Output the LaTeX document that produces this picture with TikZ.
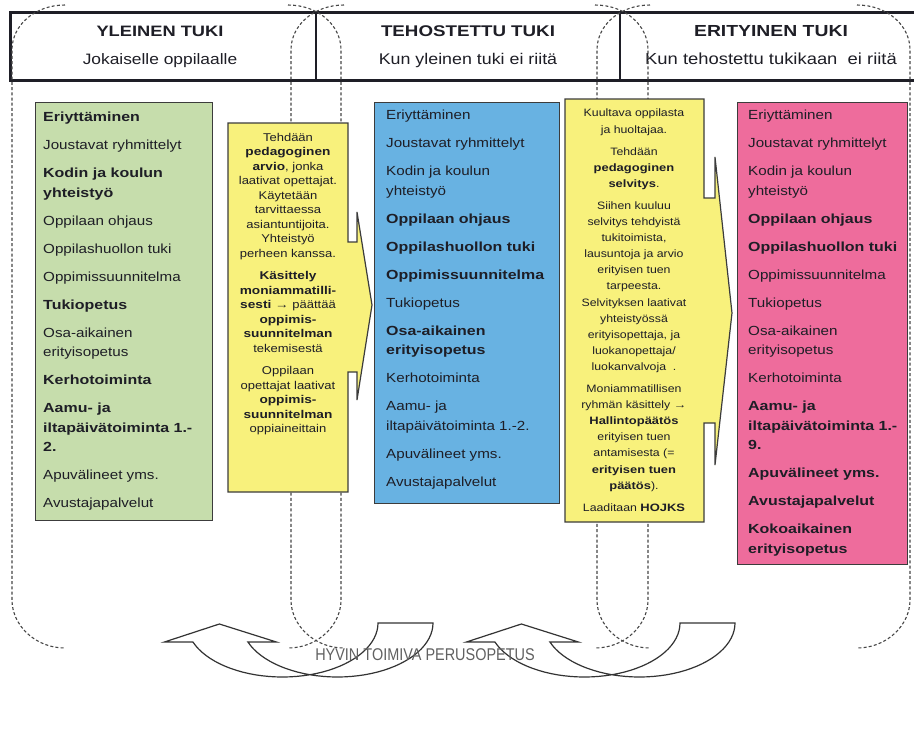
\documentclass[tikz,border=0pt]{standalone}
\usepackage{fontspec}
\setmainfont{Liberation Sans}
\newfontfamily\wfont[FakeStretch=1.15, BoldFeatures={FakeStretch=1.21}]{Liberation Sans}
\newfontfamily\nfont[FakeStretch=0.85]{Liberation Sans}
\definecolor{gfill}{RGB}{198,221,172}
\definecolor{bfill}{RGB}{104,178,226}
\definecolor{pfill}{RGB}{238,108,156}
\definecolor{yfill}{RGB}{248,241,124}
\definecolor{ink}{RGB}{30,30,38}
\definecolor{dashc}{RGB}{70,70,70}
\definecolor{edge}{RGB}{60,60,60}
\tikzset{
  dashline/.style={draw=dashc, line width=1.1pt, dash pattern=on 3pt off 2.2pt},
  colbox/.style={draw=edge, line width=1.3pt, rectangle, inner sep=0pt, anchor=north west},
  itemtext/.style={anchor=north west, inner sep=0pt, align=left, text=ink,
    font=\wfont\fontsize{13.2}{19.5}\selectfont},
  yeltext/.style={anchor=north, inner sep=0pt, align=center, text=ink},
  yelshape/.style={draw=edge, line width=1.2pt, fill=yfill},
  headtext/.style={anchor=north, inner sep=0pt, align=center, text=ink},
  curvearrow/.style={draw=black!80, line width=1.2pt, fill=white},
}
\begin{document}
\begin{tikzpicture}[x=1pt,y=-1pt]
\useasboundingbox (0,0) rectangle (914,745);
\fill[white] (0,0) rectangle (914,745);

% header frame
\draw[line width=3pt, draw=ink] (930,12) -- (10,12) -- (10,80) -- (930,80);
\draw[line width=1.2pt, draw=ink] (316,12) -- (316,80);
\draw[line width=1.2pt, draw=ink] (620,12) -- (620,80);
\node[headtext, font=\wfont\fontsize{15.1}{28.5}\selectfont] (h1) at (160,25.6) {\textbf{YLEINEN TUKI}\\Jokaiselle oppilaalle};
\node[headtext, font=\wfont\fontsize{15.5}{28.5}\selectfont] (h2) at (468,25.4) {\textbf{TEHOSTETTU TUKI}\\Kun yleinen tuki ei riitä};
\node[headtext, font=\wfont\fontsize{16}{28.5}\selectfont] (h3) at (771,25.1) {\textbf{ERITYINEN TUKI}\\Kun tehostettu tukikaan\ \ ei riitä};

% dashed column outlines
\foreach \xl/\xr in {12/341, 291/648, 597/910}{
  \draw[dashline] (\xl+53,5) .. controls (\xl+23,5) and (\xl,25) .. (\xl,50)
     -- (\xl,600) .. controls (\xl,625) and (\xl+23,648) .. (\xl+53,648);
  \draw[dashline] (\xr-53,5) .. controls (\xr-23,5) and (\xr,25) .. (\xr,50)
     -- (\xr,600) .. controls (\xr,625) and (\xr-23,648) .. (\xr-53,648);
}

% coloured boxes
\node[colbox, fill=gfill, minimum width=177pt, minimum height=418pt] (green) at (35,102) {};
\node[colbox, fill=bfill, minimum width=185pt, minimum height=401pt] (blue) at (374,102) {};
\node[colbox, fill=pfill, minimum width=170pt, minimum height=462pt] (pink) at (737,102) {};

\node[itemtext] (greentxt) at (43,112) {%
\textbf{Eriyttäminen}\\[8.5pt]
Joustavat ryhmittelyt\\[8.5pt]
\textbf{Kodin ja koulun}\\\textbf{yhteistyö}\\[8.5pt]
Oppilaan ohjaus\\[8.5pt]
Oppilashuollon tuki\\[8.5pt]
Oppimissuunnitelma\\[8.5pt]
\textbf{Tukiopetus}\\[8.5pt]
Osa-aikainen\\erityisopetus\\[8.5pt]
\textbf{Kerhotoiminta}\\[8.5pt]
\textbf{Aamu- ja}\\\textbf{iltapäivätoiminta 1.-}\\\textbf{2.}\\[8.5pt]
Apuvälineet yms.\\[8.5pt]
Avustajapalvelut};

\node[itemtext] (bluetxt) at (386,110) {%
Eriyttäminen\\[8.5pt]
Joustavat ryhmittelyt\\[8.5pt]
Kodin ja koulun\\yhteistyö\\[8.5pt]
\textbf{Oppilaan ohjaus}\\[8.5pt]
\textbf{Oppilashuollon tuki}\\[8.5pt]
\textbf{Oppimissuunnitelma}\\[8.5pt]
Tukiopetus\\[8.5pt]
\textbf{Osa-aikainen}\\\textbf{erityisopetus}\\[8.5pt]
Kerhotoiminta\\[8.5pt]
Aamu- ja\\iltapäivätoiminta 1.-2.\\[8.5pt]
Apuvälineet yms.\\[8.5pt]
Avustajapalvelut};

\node[itemtext] (pinktxt) at (748,110) {%
Eriyttäminen\\[8.5pt]
Joustavat ryhmittelyt\\[8.5pt]
Kodin ja koulun\\yhteistyö\\[8.5pt]
\textbf{Oppilaan ohjaus}\\[8.5pt]
\textbf{Oppilashuollon tuki}\\[8.5pt]
Oppimissuunnitelma\\[8.5pt]
Tukiopetus\\[8.5pt]
Osa-aikainen\\erityisopetus\\[8.5pt]
Kerhotoiminta\\[8.5pt]
\textbf{Aamu- ja}\\\textbf{iltapäivätoiminta 1.-}\\\textbf{9.}\\[8.5pt]
\textbf{Apuvälineet yms.}\\[8.5pt]
\textbf{Avustajapalvelut}\\[8.5pt]
\textbf{Kokoaikainen}\\\textbf{erityisopetus}};

% yellow callout arrows
\draw[yelshape] (228,123) -- (348,123) -- (348,242) -- (357,242) -- (357,212)
  -- (372,305) -- (357,400) -- (357,372) -- (348,372) -- (348,492) -- (228,492) -- cycle;
\draw[yelshape] (565,99) -- (704,99) -- (704,198) -- (715,198) -- (715,157)
  -- (732,313) -- (715,465) -- (715,423) -- (704,423) -- (704,522) -- (565,522) -- cycle;

\node[yeltext, font=\wfont\fontsize{11.3}{14.5}\selectfont] (yel1txt) at (288,132.8) {%
Tehdään\\
\textbf{pedagoginen}\\
\textbf{arvio}, jonka\\
laativat opettajat.\\
Käytetään\\
tarvittaessa\\
asiantuntijoita.\\
Yhteistyö\\
perheen kanssa.\\[8pt]
\textbf{Käsittely}\\
\textbf{moniammatilli-}\\
\textbf{sesti →} päättää\\
\textbf{oppimis-}\\
\textbf{suunnitelman}\\
tekemisestä\\[8pt]
Oppilaan\\
opettajat laativat\\
\textbf{oppimis-}\\
\textbf{suunnitelman}\\
oppiaineittain};

\node[yeltext, font=\wfont\fontsize{10.7}{16.1}\selectfont] (yel2txt) at (634,109) {%
Kuultava oppilasta\\
ja huoltajaa.\\[6pt]
Tehdään\\
\textbf{pedagoginen}\\
\textbf{selvitys}.\\[6pt]
Siihen kuuluu\\
selvitys tehdyistä\\
tukitoimista,\\
lausuntoja ja arvio\\
erityisen tuen\\
tarpeesta.\\
Selvityksen laativat\\
yhteistyössä\\
erityisopettaja, ja\\
luokanopettaja/\\
luokanvalvoja\ \ .\\[6pt]
Moniammatillisen\\
ryhmän käsittely \textbf{→}\\
\textbf{Hallintopäätös}\\
erityisen tuen\\
antamisesta (=\\
\textbf{erityisen tuen}\\
\textbf{päätös}).\\[6pt]
Laaditaan \textbf{HOJKS}};

% curved up arrows at the bottom
\foreach \sh in {0pt,302pt}{
\begin{scope}[xshift=\sh]
\draw[curvearrow] plot[domain=0:159.4, samples=40] ({337.4+95.6*cos(\x)},{623+54*sin(\x)})
  -- (276.4,642) -- (219.4,624) -- (164.4,642)
  -- plot[domain=159.4:0, samples=40] ({282.4+95.6*cos(\x)},{623+54*sin(\x)}) -- cycle;
\end{scope}
}
\node[inner sep=0pt, text=black!62, font=\nfont\fontsize{17}{20}\selectfont] (base) at (425,655) {HYVIN TOIMIVA PERUSOPETUS};
\end{tikzpicture}
\end{document}
